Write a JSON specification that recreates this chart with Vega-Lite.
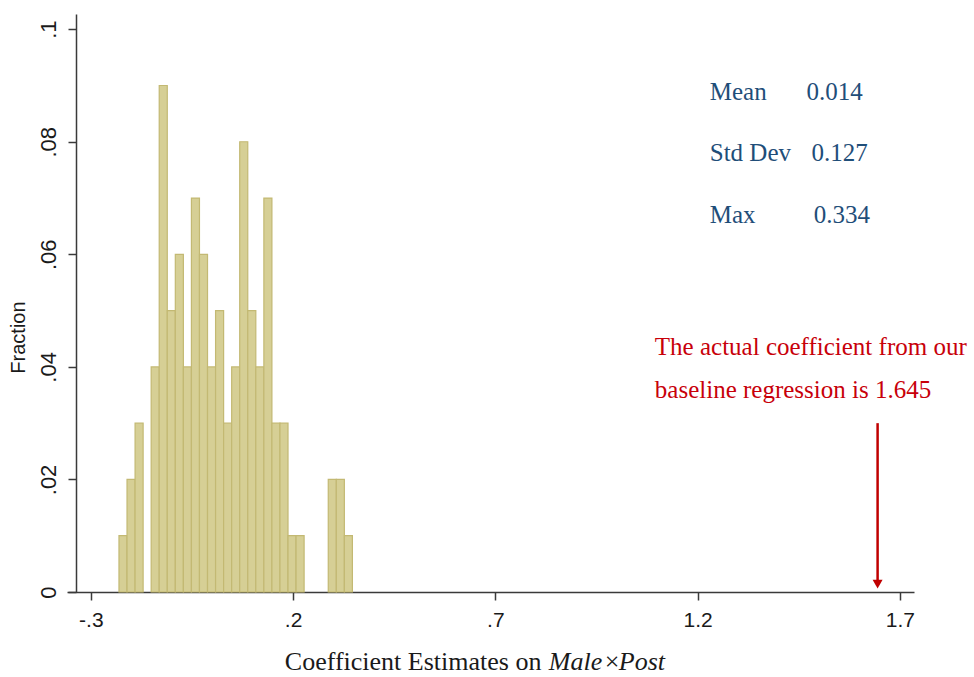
{
  "$schema": "https://vega.github.io/schema/vega-lite/v6.json",
  "autosize": {"type": "none"},
  "width": 847,
  "height": 578,
  "padding": {"left": 67, "top": 14, "right": 60, "bottom": 85},
  "background": "white",
  "config": {
    "view": {"stroke": null},
    "axis": {"grid": false, "domainColor": "#3a3a3a", "tickColor": "#3a3a3a", "domainWidth": 1.5, "tickWidth": 1.5, "tickSize": 8, "labelFont": "Liberation Sans", "labelFontSize": 21, "labelColor": "#1a1a1a", "titleFont": "Liberation Sans", "titleFontSize": 20, "titleFontWeight": "normal", "titleColor": "#1a1a1a"}
  },
  "layer": [
    {
      "data": {"values": [
        {"start": -0.2305, "end": -0.2106, "fraction": 0.01},
        {"start": -0.2106, "end": -0.1907, "fraction": 0.02},
        {"start": -0.1907, "end": -0.1708, "fraction": 0.03},
        {"start": -0.1509, "end": -0.1310, "fraction": 0.04},
        {"start": -0.1310, "end": -0.1111, "fraction": 0.09},
        {"start": -0.1111, "end": -0.0912, "fraction": 0.05},
        {"start": -0.0912, "end": -0.0713, "fraction": 0.06},
        {"start": -0.0713, "end": -0.0514, "fraction": 0.04},
        {"start": -0.0514, "end": -0.0315, "fraction": 0.07},
        {"start": -0.0315, "end": -0.0116, "fraction": 0.06},
        {"start": -0.0116, "end": 0.0083, "fraction": 0.04},
        {"start": 0.0083, "end": 0.0282, "fraction": 0.05},
        {"start": 0.0282, "end": 0.0481, "fraction": 0.03},
        {"start": 0.0481, "end": 0.0680, "fraction": 0.04},
        {"start": 0.0680, "end": 0.0879, "fraction": 0.08},
        {"start": 0.0879, "end": 0.1078, "fraction": 0.05},
        {"start": 0.1078, "end": 0.1277, "fraction": 0.04},
        {"start": 0.1277, "end": 0.1476, "fraction": 0.07},
        {"start": 0.1476, "end": 0.1675, "fraction": 0.03},
        {"start": 0.1675, "end": 0.1874, "fraction": 0.03},
        {"start": 0.1874, "end": 0.2073, "fraction": 0.01},
        {"start": 0.2073, "end": 0.2272, "fraction": 0.01},
        {"start": 0.2869, "end": 0.3068, "fraction": 0.02},
        {"start": 0.3068, "end": 0.3267, "fraction": 0.02},
        {"start": 0.3267, "end": 0.3466, "fraction": 0.01}
      ]},
      "mark": {"type": "bar", "fill": "#d6cf95", "stroke": "#c3b973", "strokeWidth": 1.2},
      "encoding": {
        "x": {"field": "start", "type": "quantitative",
          "scale": {"domain": [-0.359, 1.735], "nice": false, "zero": false},
          "axis": {"values": [-0.3, 0.2, 0.7, 1.2, 1.7], "format": ".1f", "labelExpr": "replace(replace(datum.label, '0.', '.'), '\u2212', '-')", "labelPadding": 9, "title": null}},
        "x2": {"field": "end"},
        "y": {"field": "fraction", "type": "quantitative",
          "scale": {"domain": [0, 0.1027], "nice": false},
          "axis": {"values": [0, 0.02, 0.04, 0.06, 0.08, 0.1], "labelExpr": "datum.value == 0 ? '0' : replace(format(datum.value, '.2~f'), '0.', '.')", "labelAngle": -90, "labelAlign": "center", "labelBaseline": "bottom", "labelPadding": 8, "labelFontSize": 22, "offset": -9, "title": "Fraction", "titlePadding": 9, "titleY": 323}},
        "y2": {"datum": 0}
      }
    },
    {
      "data": {"values": [{"coef": 1.645, "top": 0.0300, "bottom": 0.0020, "tip": 0.0014}]},
      "layer": [
        {
          "mark": {"type": "rule", "color": "#c00000", "strokeWidth": 2.5},
          "encoding": {
            "x": {"field": "coef", "type": "quantitative"},
            "y": {"field": "top", "type": "quantitative"},
            "y2": {"field": "bottom"}
          }
        },
        {
          "mark": {"type": "point", "shape": "triangle-down", "filled": true, "color": "#c00000", "opacity": 1, "size": 100},
          "encoding": {
            "x": {"field": "coef", "type": "quantitative"},
            "y": {"field": "tip", "type": "quantitative"}
          }
        }
      ]
    },
    {
      "data": {"values": [
        {"label": "Mean", "x": 1.230, "y": 0.0889},
        {"label": "0.014", "x": 1.4693, "y": 0.0889},
        {"label": "Std Dev", "x": 1.230, "y": 0.07795},
        {"label": "0.127", "x": 1.4817, "y": 0.07795},
        {"label": "Max", "x": 1.230, "y": 0.06698},
        {"label": "0.334", "x": 1.4874, "y": 0.06698}
      ]},
      "mark": {"type": "text", "align": "left", "baseline": "middle", "font": "Liberation Serif", "fontSize": 25, "color": "#1f4e79"},
      "encoding": {
        "x": {"field": "x", "type": "quantitative"},
        "y": {"field": "y", "type": "quantitative"},
        "text": {"field": "label"}
      }
    },
    {
      "data": {"values": [
        {"label": "The actual coefficient from our", "x": 1.0943, "y": 0.04356},
        {"label": "baseline regression is 1.645", "x": 1.0943, "y": 0.03586}
      ]},
      "mark": {"type": "text", "align": "left", "baseline": "middle", "font": "Liberation Serif", "fontSize": 25, "color": "#c8000a"},
      "encoding": {
        "x": {"field": "x", "type": "quantitative"},
        "y": {"field": "y", "type": "quantitative"},
        "text": {"field": "label"}
      }
    },
    {
      "data": {"values": [
        {"label": "Coefficient Estimates on", "x": 0.1796, "y": -0.0125},
        {"label": "\u00d7", "x": 0.9707, "y": -0.0125}
      ]},
      "mark": {"type": "text", "align": "left", "baseline": "middle", "font": "Liberation Serif", "fontSize": 26, "color": "#1a1a1a"},
      "encoding": {
        "x": {"field": "x", "type": "quantitative"},
        "y": {"field": "y", "type": "quantitative"},
        "text": {"field": "label"}
      }
    },
    {
      "data": {"values": [
        {"label": "Male", "x": 0.8320, "y": -0.0125},
        {"label": "Post", "x": 1.0053, "y": -0.0125}
      ]},
      "mark": {"type": "text", "align": "left", "baseline": "middle", "font": "Liberation Serif", "fontStyle": "italic", "fontSize": 26, "color": "#1a1a1a"},
      "encoding": {
        "x": {"field": "x", "type": "quantitative"},
        "y": {"field": "y", "type": "quantitative"},
        "text": {"field": "label"}
      }
    }
  ]
}
